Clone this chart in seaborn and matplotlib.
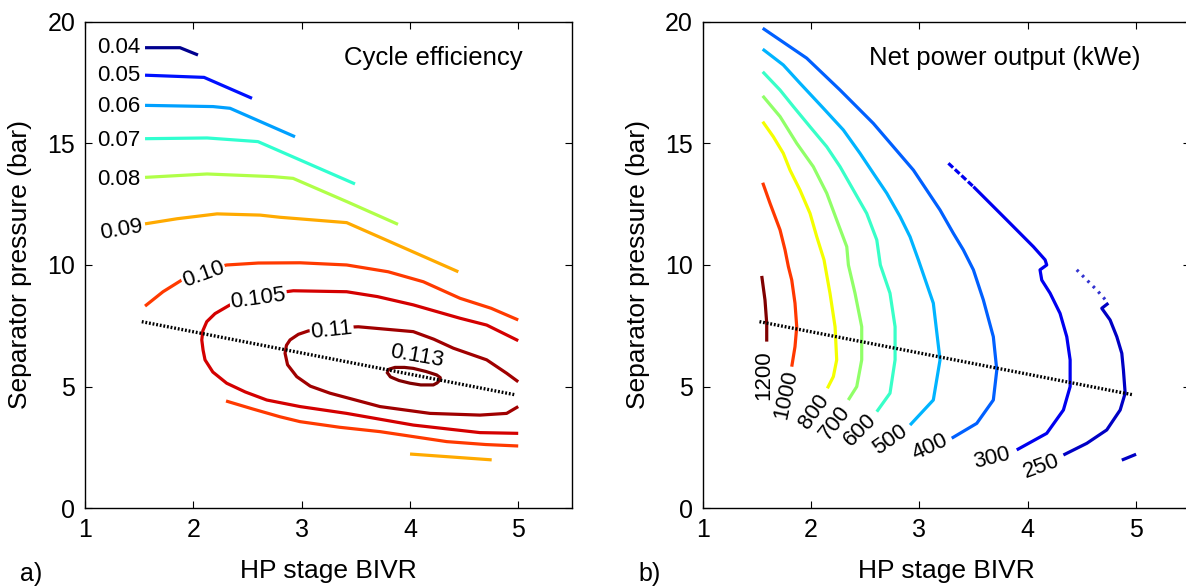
import matplotlib
matplotlib.use("Agg")
import matplotlib.pyplot as plt
import seaborn as sns

# ---------------- panel a) cycle efficiency contours ----------------
eff_levels = ["0.04", "0.05", "0.06", "0.07", "0.08", "0.09", "0.10", "0.105", "0.11", "0.113"]

eff_004_x = [1.554, 1.877, 2.043]
eff_004_y = [18.93, 18.93, 18.63]
eff_005_x = [1.554, 2.099, 2.542]
eff_005_y = [17.80, 17.71, 16.85]
eff_006_x = [1.554, 2.182, 2.339, 2.939]
eff_006_y = [16.56, 16.51, 16.44, 15.27]
eff_007_x = [1.554, 2.127, 2.597, 3.493]
eff_007_y = [15.19, 15.22, 15.07, 13.33]
eff_008_x = [1.554, 2.127, 2.736, 2.921, 3.419, 3.890]
eff_008_y = [13.60, 13.74, 13.63, 13.56, 12.60, 11.67]
eff_009_x = [1.554, 1.850, 2.219, 2.616, 2.801, 3.416, 4.447]
eff_009_y = [11.69, 11.90, 12.10, 12.05, 11.96, 11.74, 9.72]
eff_009b_x = [4.001, 4.755]
eff_009b_y = [2.23, 1.99]
eff_010_x = [1.554, 1.720, 1.893, 2.100, 2.308, 2.600, 2.986, 3.416, 3.800, 4.124,
             4.463, 4.750, 5.000]
eff_010_y = [8.31, 8.90, 9.38, 9.78, 10.00, 10.08, 10.09, 10.00, 9.72, 9.31,
             8.63, 8.22, 7.74]
eff_010b_x = [2.302, 2.550, 2.801, 2.986, 3.350, 3.724, 4.340, 4.700, 5.000]
eff_010b_y = [4.41, 4.08, 3.76, 3.56, 3.33, 3.15, 2.74, 2.62, 2.56]
eff_0105_x = [5.000, 4.709, 4.463, 4.031, 3.700, 3.416, 2.923, 2.600, 2.339, 2.200,
              2.124, 2.088, 2.078, 2.090, 2.108, 2.180, 2.308, 2.480, 2.678, 2.986,
              3.416, 4.031, 4.647, 5.000]
eff_0105_y = [6.89, 7.53, 7.81, 8.36, 8.70, 8.90, 8.94, 8.75, 8.36, 8.00,
              7.67, 7.30, 6.92, 6.50, 6.10, 5.60, 5.14, 4.78, 4.45, 4.18,
              3.90, 3.42, 3.11, 3.08]
eff_011_x = [5.000, 4.893, 4.647, 4.186, 3.724, 3.262, 3.080, 2.955, 2.870, 2.847,
             2.860, 2.893, 2.970, 3.062, 3.300, 3.524, 4.031, 4.220, 4.401, 4.709,
             4.893, 5.000]
eff_011_y = [4.18, 3.90, 3.83, 3.90, 4.18, 4.73, 5.02, 5.41, 5.90, 6.37,
             6.70, 6.92, 7.15, 7.29, 7.42, 7.46, 7.26, 6.95, 6.58, 6.10,
             5.55, 5.20]
eff_0113_x = [3.785, 3.810, 3.862, 3.950, 4.031, 4.150, 4.247, 4.280, 4.277, 4.250,
              4.216, 4.100, 4.001, 3.900, 3.820, 3.785]
eff_0113_y = [5.61, 5.72, 5.79, 5.79, 5.75, 5.62, 5.48, 5.37, 5.27, 5.15,
              5.07, 5.07, 5.14, 5.25, 5.40, 5.61]

# optimum-pressure trend line (same in both panels)
trend_x = [1.524, 4.977]
trend_y = [7.67, 4.66]

# ---------------- panel b) net power output contours ----------------
pow_levels = ["1200", "1000", "800", "700", "600", "500", "400", "300", "250"]

pow_1200_x = [1.545, 1.575, 1.591, 1.591]
pow_1200_y = [9.55, 8.56, 7.60, 6.85]
pow_1000_x = [1.554, 1.621, 1.714, 1.760, 1.791, 1.822, 1.852, 1.868, 1.852, 1.822]
pow_1000_y = [13.38, 12.54, 11.44, 10.62, 9.93, 9.38, 8.43, 7.46, 6.64, 5.82]
pow_800_x = [1.554, 1.652, 1.744, 1.806, 1.898, 1.991, 2.053, 2.120, 2.175, 2.222, 2.237, 2.206, 2.151]
pow_800_y = [15.89, 15.27, 14.59, 13.90, 13.08, 12.12, 11.16, 10.21, 8.84, 7.46, 6.10, 5.41, 4.93]
pow_700_x = [1.554, 1.714, 1.868, 2.021, 2.145, 2.237, 2.330, 2.345, 2.406, 2.468, 2.468, 2.422, 2.344]
pow_700_y = [16.95, 16.10, 15.00, 14.04, 12.95, 11.85, 10.75, 10.00, 8.84, 7.46, 6.10, 5.00, 4.45]
pow_600_x = [1.554, 1.714, 1.837, 1.991, 2.145, 2.268, 2.391, 2.514, 2.607, 2.640,
             2.729, 2.776, 2.776, 2.729, 2.607]
pow_600_y = [17.94, 17.19, 16.51, 15.68, 14.86, 14.04, 13.08, 12.12, 11.03, 10.00,
             8.84, 7.46, 6.10, 4.73, 3.97]
pow_500_x = [1.554, 1.744, 1.898, 2.114, 2.298, 2.452, 2.575, 2.699, 2.822, 2.914,
             2.991, 3.129, 3.191, 3.129, 2.914]
pow_500_y = [18.87, 18.22, 17.47, 16.44, 15.55, 14.59, 13.77, 12.95, 11.99, 11.16,
             10.21, 8.43, 6.10, 4.45, 3.42]
pow_400_x = [1.554, 1.960, 2.268, 2.575, 2.945, 3.191, 3.314, 3.406, 3.499, 3.591,
             3.683, 3.715, 3.683, 3.530, 3.299]
pow_400_y = [19.73, 18.50, 17.19, 15.82, 13.90, 12.26, 11.30, 10.62, 9.80, 8.56,
             7.05, 5.68, 4.45, 3.49, 2.88]
pow_300_x = [3.268, 3.499, 3.807, 4.053, 4.161, 4.176, 4.114, 4.130, 4.207, 4.299,
             4.361, 4.392, 4.392, 4.330, 4.176, 3.899]
pow_300_y = [14.18, 13.22, 11.85, 10.75, 10.21, 10.00, 9.80, 9.38, 8.84, 8.01,
             7.05, 6.10, 5.00, 4.04, 3.08, 2.40]
pow_250_x = [4.453, 4.638, 4.745, 4.684, 4.761, 4.823, 4.869, 4.884, 4.900, 4.854,
             4.730, 4.546, 4.330]
pow_250_y = [9.80, 8.97, 8.43, 8.22, 7.74, 7.05, 6.37, 5.68, 4.73, 4.04,
             3.22, 2.67, 2.19]
pow_250b_x = [4.869, 5.001]
pow_250b_y = [1.98, 2.22]

x_ticks = [1, 2, 3, 4, 5]
y_ticks = [0, 5, 10, 15, 20]

# ---------------- styling ----------------
sns.set_theme(style="ticks")
plt.rcParams["font.family"] = ["Liberation Sans", "DejaVu Sans"]
plt.rcParams.update({
    "axes.linewidth": 1.0,
    "text.color": "black",
    "axes.labelcolor": "black",
    "xtick.color": "black",
    "ytick.color": "black",
    "axes.edgecolor": "black",
})

LW = 2.3
LABEL_FS = 16

fig = plt.figure(figsize=(11.86, 5.87), dpi=100)
ax1 = fig.add_axes([0.0717, 0.1341, 0.4109, 0.829])
ax2 = fig.add_axes([0.5925, 0.1341, 0.411, 0.829])


def contour_line(ax, xs, ys, color, **kws):
    sns.lineplot(x=xs, y=ys, sort=False, estimator=None, color=color, lw=kws.pop("lw", LW),
                 ax=ax, legend=False, solid_capstyle="butt", solid_joinstyle="round", **kws)


def style_axes(ax, ylabel_x):
    ax.set_xlim(1, 5.5)
    ax.set_ylim(0, 20)
    ax.set_xticks(x_ticks)
    ax.set_yticks(y_ticks)
    ax.tick_params(direction="in", length=5, width=0.8, top=True, right=True,
                   labelsize=18, pad=7, colors="black")
    for s in ax.spines.values():
        s.set_visible(True)
        s.set_color("black")
        s.set_linewidth(1.0)
    ax.set_xlabel("HP stage BIVR", fontsize=19)
    ax.set_ylabel("Separator pressure (bar)", fontsize=19)
    ax.xaxis.set_label_coords(0.5, -0.105)
    ax.yaxis.set_label_coords(ylabel_x, 0.5)
    ax.grid(False)


# ---- panel a ----
eff_colors = ["#00008F", "#0010FF", "#00A0FF", "#30FFD0", "#B0FF48",
              "#FFAA00", "#FF3A00", "#D40000", "#A00000", "#800000"]
eff_lines = [
    (eff_004_x, eff_004_y, 0), (eff_005_x, eff_005_y, 1), (eff_006_x, eff_006_y, 2),
    (eff_007_x, eff_007_y, 3), (eff_008_x, eff_008_y, 4), (eff_009_x, eff_009_y, 5),
    (eff_009b_x, eff_009b_y, 5), (eff_010_x, eff_010_y, 6), (eff_010b_x, eff_010b_y, 6),
    (eff_0105_x, eff_0105_y, 7), (eff_011_x, eff_011_y, 8), (eff_0113_x, eff_0113_y, 9),
]
for xs, ys, k in eff_lines:
    contour_line(ax1, xs, ys, eff_colors[k])

contour_line(ax1, trend_x, trend_y, "black", lw=2.4, linestyle=(0, (0.55, 0.55)))

eff_label_pos = [
    (1.314, 18.93, 0), (1.314, 17.78, 0), (1.314, 16.53, 0), (1.314, 15.10, 0),
    (1.314, 13.52, 0), (1.339, 11.44, 10), (2.093, 9.63, 20), (2.600, 8.63, 8),
    (3.278, 7.33, 6), (4.062, 6.26, -10),
]
white_box = dict(boxstyle="square,pad=0.05", fc="white", ec="none")
for lab, (x, y, rot) in zip(eff_levels, eff_label_pos):
    ax1.text(x, y, lab, fontsize=LABEL_FS, ha="center", va="center", rotation=rot,
             rotation_mode="anchor", zorder=5,
             bbox=white_box if lab in ("0.10", "0.105", "0.11") else None)

ax1.text(4.215, 18.5, "Cycle efficiency", fontsize=18.5, ha="center", va="center")
style_axes(ax1, -0.109)

# ---- panel b ----
pow_colors = ["#7F0000", "#FF3800", "#F4FF00", "#90FF68", "#38FFC8",
              "#00B4FF", "#0060FF", "#0000F0", "#0000C4"]
pow_lines = [
    (pow_1200_x, pow_1200_y, 0), (pow_1000_x, pow_1000_y, 1), (pow_800_x, pow_800_y, 2),
    (pow_700_x, pow_700_y, 3), (pow_600_x, pow_600_y, 4), (pow_500_x, pow_500_y, 5),
    (pow_400_x, pow_400_y, 6),
]
for xs, ys, k in pow_lines:
    contour_line(ax2, xs, ys, pow_colors[k])

# 300 kWe: broken start, then solid
contour_line(ax2, pow_300_x[:2], pow_300_y[:2], pow_colors[7], linestyle=(0, (2.0, 0.8)))
contour_line(ax2, pow_300_x[1:], pow_300_y[1:], pow_colors[7])
# 250 kWe: faint dotted start, then solid, plus a short separate piece
contour_line(ax2, pow_250_x[:3], pow_250_y[:3], pow_colors[8], alpha=0.8,
             linestyle=(0, (0.8, 1.6)))
contour_line(ax2, pow_250_x[2:], pow_250_y[2:], pow_colors[8])
contour_line(ax2, pow_250b_x, pow_250b_y, pow_colors[8])

contour_line(ax2, trend_x, trend_y, "black", lw=2.4, linestyle=(0, (0.55, 0.55)))

pow_label_pos = [
    (1.560, 5.48, 90), (1.769, 4.66, 78), (2.028, 3.97, 55), (2.222, 3.49, 52),
    (2.452, 3.22, 45), (2.729, 2.81, 35), (3.099, 2.53, 25), (3.669, 2.05, 14),
    (4.130, 1.71, 20),
]
for lab, (x, y, rot) in zip(pow_levels, pow_label_pos):
    ax2.text(x, y, lab, fontsize=LABEL_FS, ha="center", va="center", rotation=rot,
             rotation_mode="anchor", zorder=5)

ax2.text(3.79, 18.5, "Net power output (kWe)", fontsize=18.5, ha="center", va="center")
style_axes(ax2, -0.108)

fig.text(0.0169, 0.0102, "a)", fontsize=18, va="baseline", ha="left")
fig.text(0.538, 0.0102, "b)", fontsize=18, va="baseline", ha="left")

fig.savefig("out.png", dpi=100)
